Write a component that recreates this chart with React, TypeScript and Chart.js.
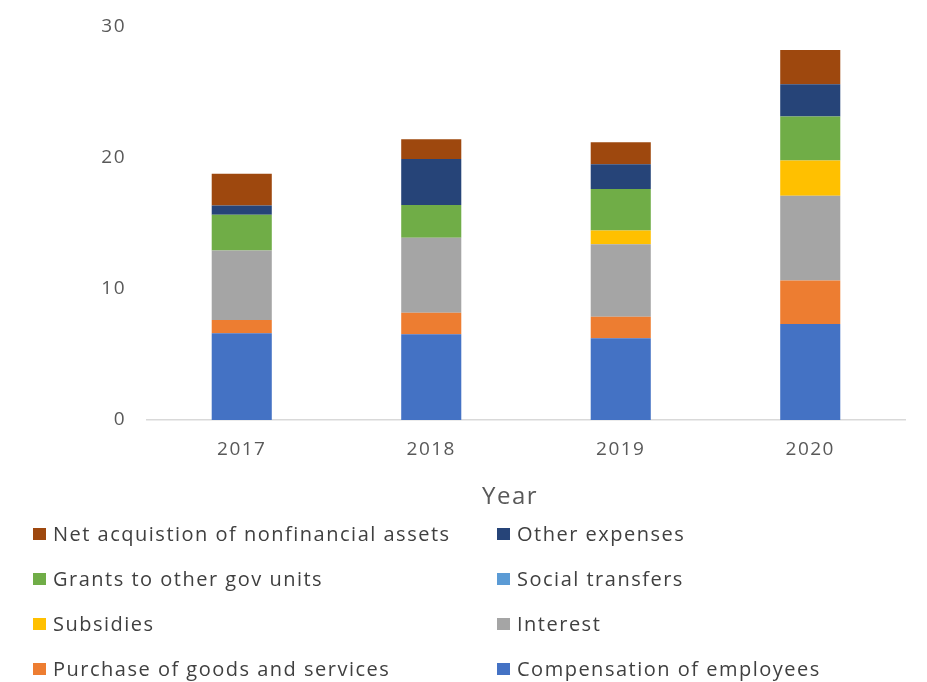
import React, { useEffect, useRef } from "react";
import { Chart, registerables } from "chart.js";

Chart.register(...registerables);

const years = ["2017", "2018", "2019", "2020"];

const compensation = [6.62, 6.54, 6.24, 7.33];
const purchase = [1.02, 1.65, 1.65, 3.31];
const interest = [5.29, 5.73, 5.53, 6.47];
const subsidies = [0, 0, 1.04, 2.69];
const socialTransfers = [0, 0, 0, 0];
const grants = [2.73, 2.5, 3.18, 3.36];
const otherExpenses = [0.71, 3.51, 1.89, 2.47];
const netAcquisition = [2.42, 1.5, 1.68, 2.62];

const yTicks = [0, 10, 20, 30];
const xTitle = "Year";

const FONT = "'Open Sans', sans-serif";
const SPACING = "1.5px";

const spacingPlugin = {
  id: "letterSpacing",
  beforeLayout(chart: any) {
    chart.ctx.letterSpacing = SPACING;
  },
  beforeDraw(chart: any) {
    chart.ctx.letterSpacing = SPACING;
  },
};

const legendPlugin = {
  id: "twoColLegend",
  afterDraw(chart: any) {
    const ctx = chart.ctx;
    const ds = [...chart.data.datasets].reverse();
    ctx.save();
    ctx.letterSpacing = SPACING;
    ctx.textBaseline = "middle";
    // axis title
    ctx.font = `24px ${FONT}`;
    ctx.fillStyle = "#595959";
    ctx.textAlign = "center";
    ctx.fillText(xTitle, 510, 497);
    // legend
    ctx.font = `20px ${FONT}`;
    ctx.textAlign = "left";
    ds.forEach((d: any, i: number) => {
      const col = i % 2;
      const row = Math.floor(i / 2);
      const x = col === 0 ? 33 : 497;
      const y = 534 + row * 45;
      ctx.fillStyle = d.backgroundColor;
      ctx.fillRect(x, y - 6, 13, 12);
      ctx.fillStyle = "#404040";
      ctx.fillText(d.label, x + 20, y + 1);
    });
    ctx.restore();
  },
};

export default function App() {
  const ref = useRef<HTMLCanvasElement>(null);
  useEffect(() => {
    document.body.style.margin = "0";
    const chart = new Chart(ref.current!, {
      type: "bar",
      data: {
        labels: years,
        datasets: [
          { label: "Compensation of employees", data: compensation, backgroundColor: "#4472C4" },
          { label: "Purchase of goods and services", data: purchase, backgroundColor: "#ED7D31" },
          { label: "Interest", data: interest, backgroundColor: "#A5A5A5" },
          { label: "Subsidies", data: subsidies, backgroundColor: "#FFC000" },
          { label: "Social transfers", data: socialTransfers, backgroundColor: "#5B9BD5" },
          { label: "Grants to other gov units", data: grants, backgroundColor: "#70AD47" },
          { label: "Other expenses", data: otherExpenses, backgroundColor: "#264478" },
          { label: "Net acquistion of nonfinancial assets", data: netAcquisition, backgroundColor: "#9E480E" },
        ],
      },
      options: {
        animation: false,
        responsive: false,
        maintainAspectRatio: false,
        layout: { padding: { top: 27, left: 0, right: 22, bottom: 172 } },
        plugins: {
          legend: { display: false },
          tooltip: { enabled: false },
        },
        datasets: {
          bar: { categoryPercentage: 0.317, barPercentage: 1, borderWidth: 0 },
        },
        scales: {
          x: {
            stacked: true,
            grid: { display: false, drawTicks: false },
            border: { display: true, color: "#D9D9D9", width: 1.5 },
            ticks: { color: "#595959", font: { family: FONT, size: 19 }, padding: 18 },
            afterFit(scale: any) {
              scale.height = 90;
            },
          },
          y: {
            stacked: true,
            min: 0,
            max: 30,
            afterBuildTicks(scale: any) {
              scale.ticks = yTicks.map((v) => ({ value: v }));
            },
            grid: { display: false, drawTicks: false },
            border: { display: false },
            ticks: { color: "#595959", font: { family: FONT, size: 19 }, padding: 21 },
            afterFit(scale: any) {
              scale.width = 147;
              scale.paddingTop = 0;
              scale.paddingBottom = 0;
            },
          },
        },
      },
      plugins: [spacingPlugin, legendPlugin],
    });
    return () => chart.destroy();
  }, []);
  return (
    <div style={{ width: 927, height: 682, background: "#fff" }}>
      <canvas ref={ref} width={927} height={682} style={{ display: "block" }} />
    </div>
  );
}
